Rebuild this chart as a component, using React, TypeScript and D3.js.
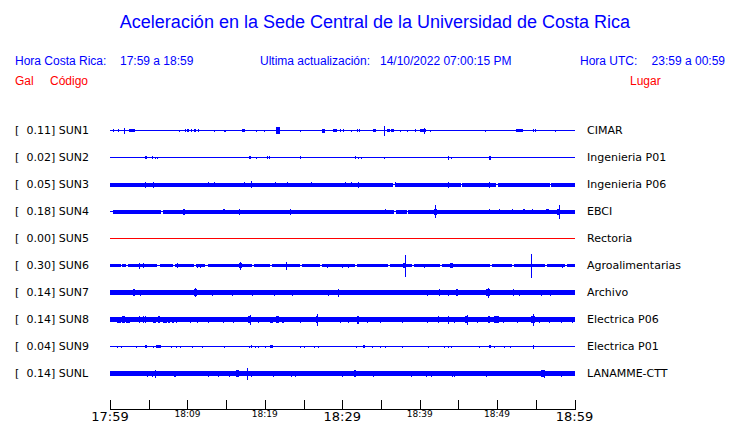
import React from "react";
import * as d3 from "d3";

// ---------- data ----------
const stationCodes = ["SUN1", "SUN2", "SUN3", "SUN4", "SUN5", "SUN6", "SUN7", "SUN8", "SUN9", "SUNL"];
const stationPeaks = [0.11, 0.02, 0.05, 0.18, 0.0, 0.3, 0.14, 0.14, 0.04, 0.14];
const stationPlaces = ["CIMAR", "Ingenieria P01", "Ingenieria P06", "EBCI", "Rectoria", "Agroalimentarias", "Archivo", "Electrica P06", "Electrica P01", "LANAMME-CTT"];
// background (noise) half-amplitude of each trace
const stationNoise = [0.5, 0.5, 2, 2, 0.5, 1.5, 2.5, 2.5, 0.5, 2.5];

// spikes: [minute after 17:59, half-amplitude, duration (min)]
const sun1Spikes = [[0.43, 1.5, 0.1], [1.03, 1.5, 0.1], [1.85, 3, 0.1], [2.46, 1.7, 0.77], [8.92, 1, 0.1], [9.7, 1.5, 0.1], [9.96, 1.7, 0.2], [10.43, 1.5, 0.2], [10.86, 1.5, 0.2], [11.34, 1.5, 0.2], [13.45, 1, 0.1], [14.74, 1, 0.2], [17.03, 1.7, 0.47], [18.84, 1, 0.1], [19.95, 1, 0.1], [21.4, 3.3, 0.58], [24.57, 1, 0.1], [27.37, 2, 0.43], [28.83, 1.7, 0.52], [29.74, 1.5, 0.1], [30.12, 1.5, 0.1], [31.16, 1, 0.1], [31.94, 1.5, 0.1], [32.2, 1.5, 0.1], [34.0, 1.5, 0.3], [35.43, 5, 0.1], [35.8, 1.7, 0.35], [36.35, 1.7, 0.35], [37.5, 1, 0.1], [38.4, 1, 0.1], [39.35, 1.5, 0.2], [40.0, 1.7, 0.86], [40.5, 3, 0.1], [41.3, 1, 0.1], [48.5, 1, 0.1], [52.4, 1.7, 1.0], [54.6, 1.5, 0.1], [54.95, 1.5, 0.1], [57.5, 1, 0.1]];
const sun2Spikes = [[4.53, 1.5, 0.2], [5.47, 1.2, 0.1], [5.82, 1, 0.1], [6.12, 1, 0.1], [17.9, 1.5, 0.35], [18.84, 1, 0.1], [20.34, 1.2, 0.1], [20.6, 1.2, 0.1], [24.48, 1.5, 0.1], [31.68, 1.2, 0.1], [31.98, 1, 0.1], [32.42, 1, 0.1], [35.43, 1, 0.1], [43.67, 2, 0.1], [44.1, 1, 0.1], [48.9, 2, 0.25]];
const sun3Spikes = [[4.53, 3, 0.1], [5.6, 3, 0.1], [12.67, 2.5, 0.1], [13.45, 2.5, 0.1], [17.37, 2.5, 0.1], [18.2, 3.5, 0.1], [21.25, 2.5, 0.1], [22.85, 2.5, 0.1], [25.95, 2.5, 0.1], [30.3, 2.5, 0.1], [31.12, 2.5, 0.1], [31.98, 3, 0.1], [36.85, 2.5, 0.1], [43.67, 3, 0.1], [48.92, 3, 0.1]];
const sun4Spikes = [[9.48, 3, 0.15], [14.6, 2.5, 0.3], [16.6, 3, 0.1], [23.3, 3, 0.1], [35.5, 2.5, 0.1], [42.0, 6.5, 0.1], [41.8, 3, 0.4], [48.9, 2.5, 0.2], [50.2, 2.5, 0.1], [51.9, 2.5, 0.1], [53.4, 2.5, 0.2], [54.5, 2.5, 0.1], [56.3, 2.5, 0.4], [57.97, 7, 0.1], [57.8, 3, 0.3]];
const sun5Spikes: number[][] = [];
const sun6Spikes = [[3.79, 3, 0.1], [4.3, 2.5, 0.1], [8.62, 2.5, 0.2], [11.2, 2, 0.1], [11.6, 2, 0.1], [16.8, 4, 0.1], [16.6, 2.5, 0.4], [22.76, 4, 0.1], [28.0, 2, 0.1], [29.96, 2, 0.1], [30.8, 2, 0.1], [38.05, 11, 0.1], [37.8, 2.5, 0.4], [40.5, 2, 0.1], [43.97, 2.5, 0.3], [54.35, 12, 0.1], [58.4, 2, 0.1]];
const sun7Spikes = [[2.97, 3.5, 0.25], [3.88, 3, 0.1], [10.99, 4.5, 0.1], [10.8, 3.5, 0.4], [13.15, 3, 0.1], [15.74, 3, 0.1], [18.32, 3, 0.1], [21.2, 3, 0.1], [23.5, 3, 0.1], [28.1, 3, 0.1], [29.4, 4, 0.1], [40.95, 3, 0.1], [42.54, 3.5, 0.1], [43.67, 3, 0.1], [44.7, 3.5, 0.2], [48.84, 5, 0.1], [48.6, 3.5, 0.5], [52.02, 3.5, 0.2], [52.8, 3, 0.1], [55.7, 3, 0.1], [56.8, 3, 0.1]];
const sun8Spikes = [[0.87, 3, 0.5], [1.6, 3.5, 0.3], [2.1, 3, 0.5], [3.79, 3.5, 0.1], [4.23, 3.5, 0.1], [4.53, 3.5, 0.1], [5.56, 3, 0.4], [6.2, 3.5, 0.2], [6.85, 3, 0.5], [7.5, 3, 0.2], [8.0, 3, 0.3], [8.5, 3, 0.1], [10.34, 3, 0.1], [11.2, 3, 0.1], [12.71, 3, 0.1], [14.57, 3, 0.1], [15.94, 3, 0.1], [17.84, 3.5, 0.4], [18.1, 5, 0.1], [19.14, 3, 0.1], [20.69, 3, 0.4], [21.5, 3.5, 0.3], [22.2, 3, 0.3], [24.57, 3, 0.1], [26.8, 6, 0.1], [26.6, 3.5, 0.3], [29.74, 3, 0.1], [30.8, 3, 0.1], [31.9, 4, 0.2], [33.2, 3, 0.1], [34.82, 3, 0.1], [37.72, 3, 0.1], [40.95, 3, 0.1], [42.32, 3.5, 0.2], [43.67, 4, 0.1], [44.4, 3, 0.1], [46.12, 5, 0.1], [45.9, 3.5, 0.4], [47.42, 3, 0.1], [48.84, 3.5, 0.3], [49.65, 3.5, 0.6], [50.78, 3, 0.1], [52.59, 3, 0.1], [54.66, 6, 0.1], [54.4, 3.5, 0.5], [55.38, 3, 0.1], [56.67, 3, 0.1], [58.32, 3, 0.1], [59.7, 3, 0.1]];
const sun9Spikes = [[0.94, 1, 0.1], [1.38, 1, 0.1], [3.32, 1, 0.1], [4.53, 1.5, 0.26], [5.52, 1, 0.1], [5.95, 1.5, 0.6], [7.89, 1, 0.1], [8.53, 1, 0.1], [9.05, 1, 0.1], [10.56, 1, 0.1], [11.86, 1, 0.1], [14.74, 1, 0.1], [17.97, 1, 0.1], [18.23, 1.5, 0.1], [18.75, 1, 0.1], [19.18, 1, 0.1], [20.04, 1, 0.1], [20.69, 1.5, 0.35], [24.48, 1, 0.1], [25.09, 1, 0.1], [26.38, 1, 0.1], [26.81, 1, 0.1], [31.81, 1, 0.1], [32.7, 1.5, 0.3], [33.84, 1, 0.1], [34.82, 1, 0.1], [35.47, 1, 0.1], [37.72, 1, 0.1], [41.08, 1, 0.1], [43.1, 1, 0.1], [43.67, 1, 0.1], [44.1, 1, 0.1], [47.62, 1, 0.1], [48.9, 1.5, 0.26], [49.56, 1, 0.1], [50.85, 1, 0.1], [51.72, 1, 0.1], [54.6, 2, 0.1]];
const sunLSpikes = [[4.75, 3, 0.1], [5.39, 3, 0.1], [5.82, 4, 0.1], [8.28, 3, 0.3], [12.71, 3, 0.1], [14.0, 3, 0.1], [15.43, 3, 0.1], [16.3, 3.5, 0.4], [17.75, 6, 0.1], [18.19, 3, 0.1], [21.04, 3, 0.1], [23.37, 3, 0.1], [23.92, 3, 0.1], [29.96, 3, 0.1], [31.5, 3.5, 0.3], [33.97, 3, 0.1], [38.88, 3, 0.1], [40.86, 3, 0.1], [41.5, 3, 0.1], [44.18, 3, 0.1], [44.48, 3, 0.1], [48.62, 3, 0.1], [55.7, 3.5, 0.4], [56.12, 4, 0.1], [58.32, 3, 0.1]];
const stationSpikes = [sun1Spikes, sun2Spikes, sun3Spikes, sun4Spikes, sun5Spikes, sun6Spikes, sun7Spikes, sun8Spikes, sun9Spikes, sunLSpikes];

// quiet stretches where a trace drops to a thinner line: [start min, end min]
const sun3Quiet = [[36.6, 36.8], [45.3, 45.5], [49.9, 50.1], [56.8, 57.0]];
const sun4Quiet = [[0, 0.4], [6.6, 6.8], [36.7, 36.9], [38.3, 38.5]];
const sun6Quiet = [[1.42, 1.6], [2.07, 2.3], [6.08, 6.4], [8.15, 8.4], [10.86, 11.05], [12.28, 12.6], [18.36, 18.6], [20.69, 20.9], [24.57, 24.8], [27.16, 27.35], [31.68, 31.9], [35.95, 36.2], [39.05, 39.25], [42.67, 42.9], [49.13, 49.35], [51.98, 52.15], [56.25, 56.45], [58.83, 59.0]];
const stationQuiet = [[], [], sun3Quiet, sun4Quiet, [], sun6Quiet, [], [], [], []];

const tickMinutes = d3.range(0, 61, 5);
const tickLabels = ["17:59", "18:09", "18:19", "18:29", "18:39", "18:49", "18:59"];
const majorLabels = ["17:59", "18:29", "18:59"];

const BLUE = "#0000ff";
const RED = "#ff0000";
const SANS = "'Liberation Sans', Arial, Helvetica, sans-serif";
const DEJAVU = "'DejaVu Sans', Verdana, sans-serif";

export default function App() {
  const W = 740, H = 423;
  const x = d3.scaleLinear().domain([0, 60]).range([110, 574.5]);
  const rowY = d3.scaleBand<number>().domain(d3.range(stationCodes.length)).range([116.5, 386.5]);
  const amp = d3.scaleLinear().domain([0, 12]).range([0, 12]);

  const axisY = 409;

  return (
    <svg width={W} height={H} style={{ position: "absolute", left: 0, top: 0, background: "#fff" }}>
      <text x={375} y={28} textAnchor="middle" fontFamily={SANS} fontSize={18} fill={BLUE}>
        Aceleración en la Sede Central de la Universidad de Costa Rica
      </text>

      <g fontFamily={SANS} fontSize={12} fill={BLUE}>
        <text x={15} y={65}>Hora Costa Rica:</text>
        <text x={120} y={65}>17:59 a 18:59</text>
        <text x={260} y={65}>Ultima actualización:</text>
        <text x={380} y={65}>14/10/2022 07:00:15 PM</text>
        <text x={580} y={65}>Hora UTC:</text>
        <text x={725} y={65} textAnchor="end">23:59 a 00:59</text>
      </g>
      <g fontFamily={SANS} fontSize={12} fill={RED}>
        <text x={15} y={85}>Gal</text>
        <text x={50} y={85}>Código</text>
        <text x={630} y={85}>Lugar</text>
      </g>

      {stationCodes.map((code, i) => {
        const cy = Math.round(rowY(i)! + rowY.bandwidth() / 2);
        const color = stationPeaks[i] === 0 ? RED : BLUE;
        const noise = stationNoise[i];
        const quiet = stationQuiet[i] as number[][];
        const segs: number[][] = [];
        let start = 0;
        quiet.forEach(([a, b]) => {
          if (a > start) segs.push([start, a]);
          start = b;
        });
        segs.push([start, 60]);
        const thin = 0.5;
        return (
          <g key={code}>
            <text x={15} y={cy + 4} fontFamily={DEJAVU} fontSize={11} fill="#000">[</text>
            <text x={51} y={cy + 4} fontFamily={DEJAVU} fontSize={11} fill="#000" textAnchor="end">
              {stationPeaks[i].toFixed(2)}
            </text>
            <text x={51} y={cy + 4} fontFamily={DEJAVU} fontSize={11} fill="#000">] {code}</text>
            <text x={587} y={cy + 4} fontFamily={DEJAVU} fontSize={11} fill="#000">{stationPlaces[i]}</text>
            <g fill={color} shapeRendering="crispEdges">
              <rect x={x(0)} y={cy} width={x(60) - x(0)} height={Math.max(1, 2 * amp(thin))} />
              {noise > thin &&
                segs.map(([a, b], k) => (
                  <rect key={k} x={x(a)} y={cy + 0.5 - amp(noise)} width={x(b) - x(a)} height={2 * amp(noise)} />
                ))}
              {(stationSpikes[i] as number[][]).map(([t, a, d], k) => (
                <rect
                  key={"s" + k}
                  x={x(t)}
                  y={cy + 0.5 - amp(a)}
                  width={Math.max(1, x(t + d) - x(t))}
                  height={2 * amp(a)}
                />
              ))}
            </g>
          </g>
        );
      })}

      <g shapeRendering="crispEdges" stroke="#000" strokeWidth={1}>
        <line x1={x(0)} x2={x(60)} y1={axisY + 0.5} y2={axisY + 0.5} />
        {tickMinutes.map((m) => (
          <line key={m} x1={Math.round(x(m)) + 0.5} x2={Math.round(x(m)) + 0.5} y1={axisY - 9} y2={axisY + 0.5} />
        ))}
      </g>
      <g fontFamily={DEJAVU} fill="#000" textAnchor="middle">
        {tickLabels.map((lab, k) => {
          const major = majorLabels.includes(lab);
          return (
            <text key={lab} x={x(k * 10)} y={major ? 421 : 416.5} fontSize={major ? 13 : 9}>
              {lab}
            </text>
          );
        })}
      </g>
    </svg>
  );
}
